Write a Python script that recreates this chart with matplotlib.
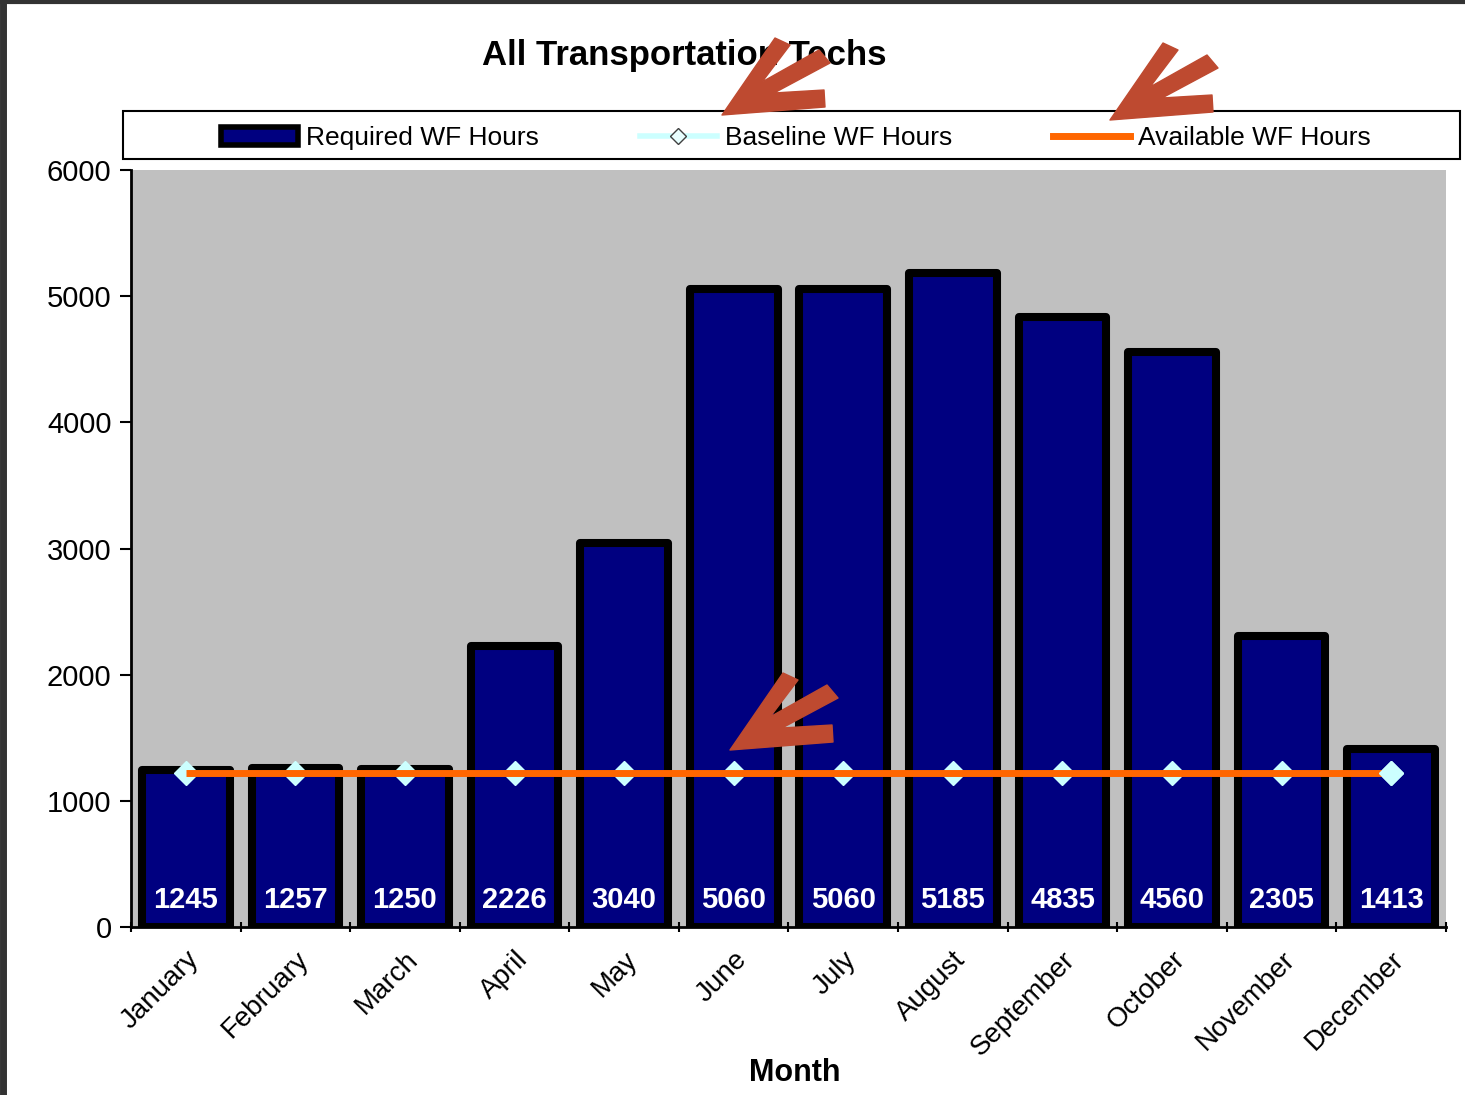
import matplotlib
matplotlib.use("Agg")
import matplotlib.pyplot as plt
from matplotlib.lines import Line2D
from matplotlib.patches import Patch, Rectangle, Polygon

# Data
months = ["January", "February", "March", "April", "May", "June", "July",
          "August", "September", "October", "November", "December"]
required_hours = [1245, 1257, 1250, 2226, 3040, 5060, 5060, 5185, 4835, 4560, 2305, 1413]
baseline_hours = [1220] * 12
available_hours = [1220] * 12

W, H = 1465, 1095

def px(x, y):
    # pixel position -> figure fraction
    return x / W, 1 - y / H

plt.rcParams['font.family'] = ['Liberation Sans', 'DejaVu Sans']

fig = plt.figure(figsize=(W / 100, H / 100), dpi=100)
l, t = px(131, 170)
r, b = px(1446, 927)
ax = fig.add_axes([l, b, r - l, t - b])
ax.set_facecolor("#C0C0C0")

x = list(range(len(months)))
ax.bar(x, required_hours, width=0.8, color="#000080", edgecolor="black",
       linewidth=5.8, joinstyle="round", zorder=2)
ax.plot(x, baseline_hours, color="#CCFFFF", lw=3, marker="D", markersize=12,
        markerfacecolor="#CCFFFF", markeredgecolor="#CCFFFF", zorder=3)
ax.plot(x, available_hours, color="#FF6600", lw=5, solid_capstyle="butt", zorder=4)
ax.plot([x[-1]], [baseline_hours[-1]], ls="none", marker="D", markersize=12,
        markerfacecolor="#CCFFFF", markeredgecolor="#CCFFFF", zorder=5)

for i, v in enumerate(required_hours):
    ax.annotate(str(v), (i, 0), xytext=(0, 19.5), textcoords="offset points",
                ha="center", va="center", color="white", fontsize=21,
                fontweight="bold", zorder=6)

ax.set_xlim(-0.5, 11.5)
ax.set_ylim(0, 6000)
ax.set_yticks(range(0, 6001, 1000))
ax.tick_params(axis="y", labelsize=21, length=8, width=1.5, direction="out", pad=6)

ax.set_xticks(x)
ax.set_xticklabels(months, rotation=45, ha="right", rotation_mode="anchor",
                   fontsize=20)
ax.tick_params(axis="x", length=0, pad=14)
ax.set_xticks([i - 0.5 for i in range(13)], minor=True)
ax.tick_params(axis="x", which="minor", length=7, width=1.5, direction="inout")

for side in ["top", "right"]:
    ax.spines[side].set_visible(False)
for side in ["left", "bottom"]:
    ax.spines[side].set_linewidth(2)

# Title and axis label
tx, ty = px(684, 56)
fig.text(tx, ty, "All Transportation Techs", ha="center", va="center",
         fontsize=25, fontweight="bold")
mx, my = px(795, 1073)
fig.text(mx, my, "Month", ha="center", va="center", fontsize=22, fontweight="bold")

# Legend (frame drawn separately so it spans the full width)
handles = [
    Patch(facecolor="#000080", edgecolor="black", linewidth=4, joinstyle="round"),
    Line2D([], [], color="#CCFFFF", lw=4, marker="D", markersize=8,
           markerfacecolor="#E8FFFF", markeredgecolor="#404040"),
    Line2D([], [], color="#FF6600", lw=5),
]
labels = ["Required WF Hours", "Baseline WF Hours", "Available WF Hours"]
lx0, ly0 = px(123, 159)
lx1, ly1 = px(1460, 111)
fig.legend(handles, labels, loc="center", ncol=3,
           bbox_to_anchor=(lx0 + 0.003, ly0 - 0.003, lx1 - lx0, ly1 - ly0),
           fontsize=19, frameon=False,
           handlelength=2.9, handletextpad=0.3, columnspacing=3.85,
           borderaxespad=0, borderpad=0.3)
fig.add_artist(Rectangle((lx0, ly0), lx1 - lx0, ly1 - ly0, fill=False,
                         edgecolor="black", lw=1.5, transform=fig.transFigure))

# Frame lines (left and top) of the screenshot
fig.add_artist(Line2D([3.5 / W, 3.5 / W], [0, 1], color="#333333", lw=5,
                      transform=fig.transFigure))
fig.add_artist(Line2D([0, 1], [1 - 2 / H, 1 - 2 / H], color="#333333", lw=3,
                      transform=fig.transFigure))

# Red hand-drawn arrows, outline relative to the tip (pixels)
arrow_shape = [(0, 0), (53, -77), (68, -70), (40, -33), (97, -65), (108, -52),
               (52, -22), (102, -25), (103, -8)]
arrow_tips = [(722, 115), (1110, 120), (730, 750)]
for tipx, tipy in arrow_tips:
    pts = [px(tipx + dx, tipy + dy) for dx, dy in arrow_shape]
    fig.add_artist(Polygon(pts, closed=True, facecolor="#BE4A30",
                           edgecolor="#BE4A30", lw=1, joinstyle="round",
                           transform=fig.transFigure, zorder=10))

fig.savefig("out.png", dpi=100)
